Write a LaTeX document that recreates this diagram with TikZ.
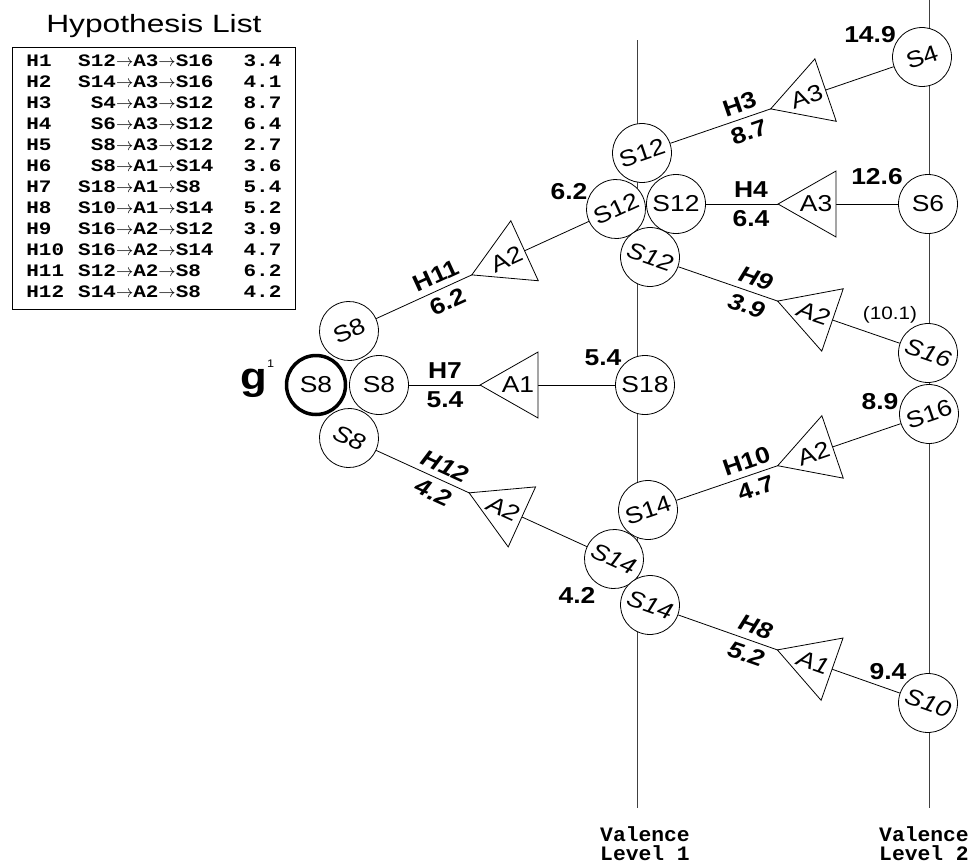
\documentclass[tikz,border=0pt]{standalone}
\usepackage{fontspec}
\setmainfont[FakeStretch=1.15]{Liberation Sans}
\newfontfamily\titlefont[FakeStretch=1.27]{Liberation Sans}
\newfontfamily\monofont[FakeStretch=1.04]{Liberation Mono}
\newfontfamily\tablefont[FakeStretch=1.2]{Liberation Mono}
\usetikzlibrary{positioning, shapes.geometric, calc}

\begin{document}
\begin{tikzpicture}[
    x=1pt, y=-1pt, line width=0.8pt,
    state/.style={
      circle, draw, fill=white, minimum size=59pt, inner sep=0pt,
      font=\fontsize{23}{23}\selectfont
    },
    statedown/.style={state, font=\fontsize{23}{23}\selectfont\itshape},
    goalstate/.style={state, line width=3.5pt},
    act/.style={
      isosceles triangle, isosceles triangle stretches, shape border rotate=180,
      draw, fill=white, minimum width=66pt, minimum height=58pt, inner sep=0pt,
      font=\fontsize{23}{23}\selectfont
    },
    actdown/.style={act, font=\fontsize{23}{23}\selectfont\itshape},
    hyp/.style={font=\fontsize{23}{23}\selectfont\bfseries, inner sep=6pt},
    hypdown/.style={hyp, font=\fontsize{23}{23}\selectfont\bfseries\itshape},
    score/.style={font=\fontsize{23}{23}\selectfont\bfseries, inner sep=0pt},
    levelline/.style={line width=0.8pt, black!75},
    valence/.style={
      font=\monofont\bfseries\fontsize{20.5}{19}\selectfont,
      align=center, inner sep=0pt
    }
]
\useasboundingbox (0,0) rectangle (972,863);

% Hypothesis list
\node[draw, anchor=north west, inner xsep=14pt, inner ysep=5pt,
      font=\tablefont\bfseries\fontsize{17.5}{21}\selectfont] (hyplist) at (12,46.5) {%
  \begin{tabular*}{255pt}{@{}l@{\hspace{14pt}}r@{}l@{}l@{\extracolsep{\fill}}r@{}}
    H1  & S12 & $\rightarrow$A3$\rightarrow$ & S16 & 3.4\\
    H2  & S14 & $\rightarrow$A3$\rightarrow$ & S16 & 4.1\\
    H3  & S4  & $\rightarrow$A3$\rightarrow$ & S12 & 8.7\\
    H4  & S6  & $\rightarrow$A3$\rightarrow$ & S12 & 6.4\\
    H5  & S8  & $\rightarrow$A3$\rightarrow$ & S12 & 2.7\\
    H6  & S8  & $\rightarrow$A1$\rightarrow$ & S14 & 3.6\\
    H7  & S18 & $\rightarrow$A1$\rightarrow$ & S8  & 5.4\\
    H8  & S10 & $\rightarrow$A1$\rightarrow$ & S14 & 5.2\\
    H9  & S16 & $\rightarrow$A2$\rightarrow$ & S12 & 3.9\\
    H10 & S16 & $\rightarrow$A2$\rightarrow$ & S14 & 4.7\\
    H11 & S12 & $\rightarrow$A2$\rightarrow$ & S8  & 6.2\\
    H12 & S14 & $\rightarrow$A2$\rightarrow$ & S8  & 4.2
  \end{tabular*}};
\node[font=\titlefont\fontsize{25}{25}\selectfont, inner sep=2pt, above=6pt of hyplist] (title) {Hypothesis List};

% Valence levels
\coordinate (v1top) at (637,40);
\coordinate (v1bot) at (637,808);
\coordinate (v2top) at (929,0);
\coordinate (v2bot) at (929,808);
\draw[levelline] (v1top) -- (v1bot);
\draw[levelline] (v2top) -- (v2bot);
\node[valence, below=18pt of v1bot, xshift=8pt] (val1) {Valence\\Level 1};
\node[valence, below=18pt of v2bot, xshift=-5pt] (val2) {Valence\\Level 2};

% Goal S8
\node[goalstate] (s8g) at (316,385) {S8};
\node[state, rotate=24.6] (s8a) at (349,331) {S8};
\node[state] (s8b) at (379,385) {S8};
\node[statedown, rotate=-24.5] (s8c) at (349,438) {S8};
\node[anchor=base west, inner sep=0pt] (g1) at (240,389)
  {\fontsize{38}{38}\selectfont\bfseries g\raisebox{22pt}{\fontsize{11}{11}\selectfont\mdseries 1}};

% Level 1 states
\node[state, rotate=18.9] (s12a) at (642,153) {S12};
\node[state, rotate=24.6] (s12b) at (616,209) {S12};
\node[state] (s12c) at (676,204) {S12};
\node[statedown, rotate=-19] (s12d) at (650,257) {S12};
\node[state] (s18) at (645,385) {S18};
\node[state, rotate=18.9] (s14a) at (648,510) {S14};
\node[statedown, rotate=-24.5] (s14b) at (614,559) {S14};
\node[statedown, rotate=-19.4] (s14c) at (650,605) {S14};

% Level 2 states
\node[state, rotate=18.9] (s4) at (922,57) {S4};
\node[state] (s6) at (928,204) {S6};
\node[statedown, rotate=-19] (s16a) at (928,353) {S16};
\node[state, rotate=18.9] (s16b) at (929,414) {S16};
\node[statedown, rotate=-19.4] (s10) at (928,703) {S10};

% Scores
\node[score] (sc4) at (870,35) {14.9};
\node[score] (sc6) at (877,177) {12.6};
\node[score] (sc12) at (569,192) {6.2};
\node[score] (sc18) at (603,358) {5.4};
\node[font=\fontsize{18}{18}\selectfont, inner sep=0pt] (sc16a) at (890,315) {(10.1)};
\node[score] (sc16b) at (880,402) {8.9};
\node[score] (sc14) at (577,595) {4.2};
\node[score] (sc10) at (888,672) {9.4};

% Hypotheses
\draw (s8a) -- (s12b);
\draw (s8b) -- (s18);
\draw (s8c) -- (s14b);
\draw (s12a) -- (s4);
\draw (s12c) -- (s6);
\draw (s12d) -- (s16a);
\draw (s14a) -- (s16b);
\draw (s14c) -- (s10);

% H11
\node[act, rotate=24.6, anchor=apex] (a11) at ($(s8a)!134pt!(s12b)$) {A2};
\node[hyp, rotate=24.6, anchor=south] (h11) at ($(a11.apex)!32pt!(s8a)$) {H11};
\node[hyp, rotate=24.6, anchor=north] (h11val) at ($(a11.apex)!32pt!(s8a)$) {6.2};
% H7
\node[act, anchor=apex] (a7) at ($(s8b)!100pt!(s18)$) {A1};
\node[hyp, anchor=south] (h7) at ($(a7.apex)!34pt!(s8b)$) {H7};
\node[hyp, anchor=north] (h7val) at ($(a7.apex)!34pt!(s8b)$) {5.4};
% H12
\node[actdown, rotate=-24.5, anchor=apex] (a12) at ($(s8c)!131pt!(s14b)$) {A2};
\node[hypdown, rotate=-24.5, anchor=south] (h12) at ($(a12.apex)!32pt!(s8c)$) {H12};
\node[hypdown, rotate=-24.5, anchor=north] (h12val) at ($(a12.apex)!32pt!(s8c)$) {4.2};
% H3
\node[act, rotate=18.9, anchor=apex] (a3) at ($(s12a)!135pt!(s4)$) {A3};
\node[hyp, rotate=18.9, anchor=south] (h3) at ($(a3.apex)!27pt!(s12a)$) {H3};
\node[hyp, rotate=18.9, anchor=north] (h3val) at ($(a3.apex)!27pt!(s12a)$) {8.7};
% H4
\node[act, anchor=apex] (a4) at ($(s12c)!101pt!(s6)$) {A3};
\node[hyp, anchor=south] (h4) at ($(a4.apex)!26pt!(s12c)$) {H4};
\node[hyp, anchor=north] (h4val) at ($(a4.apex)!26pt!(s12c)$) {6.4};
% H9
\node[actdown, rotate=-19, anchor=apex] (a9) at ($(s12d)!134pt!(s16a)$) {A2};
\node[hypdown, rotate=-19, anchor=south] (h9) at ($(a9.apex)!27pt!(s12d)$) {H9};
\node[hypdown, rotate=-19, anchor=north] (h9val) at ($(a9.apex)!27pt!(s12d)$) {3.9};
% H10
\node[act, rotate=18.9, anchor=apex] (a10) at ($(s14a)!136pt!(s16b)$) {A2};
\node[hyp, rotate=18.9, anchor=south] (h10) at ($(a10.apex)!27pt!(s14a)$) {H10};
\node[hyp, rotate=18.9, anchor=north] (h10val) at ($(a10.apex)!27pt!(s14a)$) {4.7};
% H8
\node[actdown, rotate=-19.4, anchor=apex] (a8) at ($(s14c)!134pt!(s10)$) {A1};
\node[hypdown, rotate=-19.4, anchor=south] (h8) at ($(a8.apex)!27pt!(s14c)$) {H8};
\node[hypdown, rotate=-19.4, anchor=north] (h8val) at ($(a8.apex)!27pt!(s14c)$) {5.2};

\end{tikzpicture}
\end{document}
